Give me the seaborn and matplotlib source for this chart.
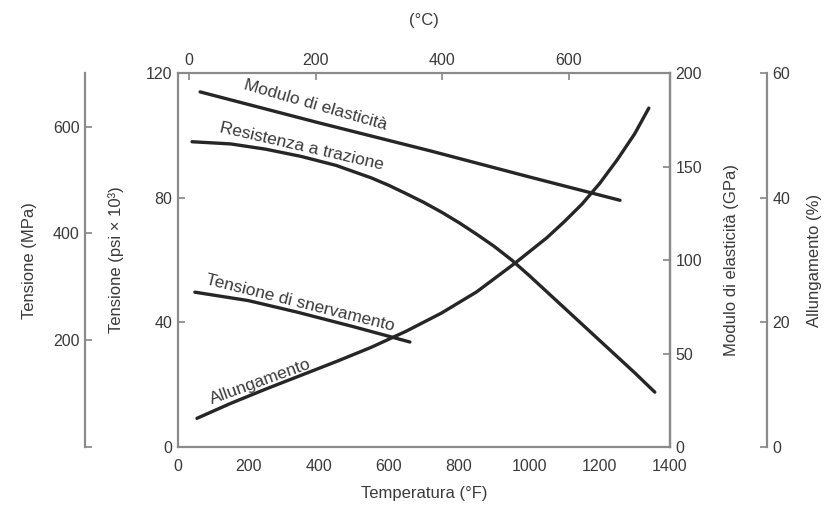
import matplotlib
matplotlib.use("Agg")
import matplotlib.pyplot as plt
import seaborn as sns
import pandas as pd
import numpy as np

# ---- data ----
mod_F = [63, 400, 717, 1000, 1258]
mod_GPa = [190, 173.5, 158.5, 144.5, 132]

ts_F = [40, 150, 250, 350, 450, 550, 600, 650, 700, 750, 800, 850, 900, 950,
        1000, 1100, 1200, 1300, 1357]
ts_ksi = [98, 97.3, 95.6, 93.3, 90.4, 86.4, 84.0, 81.3, 78.5, 75.4, 72.0, 68.3,
          64.4, 60.0, 55.0, 44.6, 34.2, 23.8, 17.6]

ys_F = [48, 200, 339, 500, 660]
ys_ksi = [49.7, 47, 43.3, 38.6, 33.7]

el_F = [54, 150, 250, 350, 450, 550, 650, 750, 850, 959, 1050, 1100, 1150,
        1200, 1250, 1300, 1340]
el_pct = [4.6, 7.0, 9.3, 11.5, 13.7, 16.0, 18.6, 21.5, 24.9, 29.5, 33.6, 36.2,
          39.0, 42.3, 46.1, 50.3, 54.4]

x_ticks_F = [0, 200, 400, 600, 800, 1000, 1200, 1400]
x_ticks_C = [0, 200, 400, 600]
ksi_ticks = [0, 40, 80, 120]
gpa_ticks = [0, 50, 100, 150, 200]
el_ticks = [0, 20, 40, 60]
mpa_ticks = [0, 200, 400, 600]
mpa_labels = ["", "200", "400", "600"]

sns.set_theme(style="white")
FONT = ["Liberation Sans Narrow", "Liberation Sans", "DejaVu Sans"]
plt.rcParams["font.family"] = FONT
TXT = "#3a3a3a"
SP = "#8a8a8a"
LC = "#262626"

fig = plt.figure(figsize=(8.24, 5.12), dpi=100)
ax = fig.add_axes([0.216, 0.127, 0.597, 0.730])
ax.set_xlim(0, 1400)
ax.set_ylim(0, 120)

ax_mod = ax.twinx()
ax_mod.set_ylim(0, 200)
ax_el = ax.twinx()
ax_el.set_ylim(0, 60)
ax_mpa = ax.twinx()
ax_mpa.set_ylim(0, 700)

# curves
sns.lineplot(x=mod_F, y=mod_GPa, ax=ax_mod, color=LC, lw=2.4, sort=False)
sns.lineplot(x=ts_F, y=ts_ksi, ax=ax, color=LC, lw=2.4, sort=False)
sns.lineplot(x=ys_F, y=ys_ksi, ax=ax, color=LC, lw=2.4, sort=False)
sns.lineplot(x=el_F, y=el_pct, ax=ax_el, color=LC, lw=2.4, sort=False)

# main axis styling
for s in ax.spines.values():
    s.set_color(SP)
    s.set_linewidth(1.6)
ax.set_xticks(x_ticks_F)
ax.set_yticks(ksi_ticks)
ax.tick_params(direction="in", length=5, color=SP, labelcolor=TXT, labelsize=11.5, pad=4)
ax.tick_params(axis="x", pad=9)
ax.set_xlabel("Temperatura (°F)", color=TXT, fontsize=12, labelpad=8)
ax.set_ylabel("Tensione (psi × 10³)", color=TXT, fontsize=12, labelpad=16)

# top Celsius axis
secax = ax.secondary_xaxis("top", functions=(lambda f: (f - 32) / 1.8, lambda c: c * 1.8 + 32))
secax.set_xticks(x_ticks_C)
secax.tick_params(direction="in", length=5, color=SP, labelcolor=TXT, labelsize=11.5, pad=4)
secax.spines["top"].set_color(SP)
secax.set_xlabel("(°C)", color=TXT, fontsize=12, labelpad=20)

# modulus axis
for k in ["left", "top", "bottom"]:
    ax_mod.spines[k].set_visible(False)
ax_mod.spines["right"].set_color(SP)
ax_mod.spines["right"].set_linewidth(1.6)
ax_mod.set_yticks(gpa_ticks)
ax_mod.tick_params(direction="in", length=5, color=SP, labelcolor=TXT, labelsize=11.5, pad=4)
ax_mod.set_ylabel("Modulo di elasticità (GPa)", color=TXT, fontsize=12, labelpad=16)

# elongation axis
for k in ["left", "top", "bottom"]:
    ax_el.spines[k].set_visible(False)
ax_el.spines["right"].set_position(("axes", 1.197))
ax_el.spines["right"].set_color(SP)
ax_el.spines["right"].set_linewidth(1.6)
ax_el.set_yticks(el_ticks)
ax_el.tick_params(direction="in", length=5, color=SP, labelcolor=TXT, labelsize=11.5, pad=4)
ax_el.set_ylabel("Allungamento (%)", color=TXT, fontsize=12, labelpad=12)

# MPa axis on far left
for k in ["right", "top", "bottom"]:
    ax_mpa.spines[k].set_visible(False)
ax_mpa.spines["left"].set_visible(True)
ax_mpa.spines["left"].set_position(("axes", -0.189))
ax_mpa.spines["left"].set_color(SP)
ax_mpa.spines["left"].set_linewidth(1.6)
ax_mpa.yaxis.set_ticks_position("left")
ax_mpa.yaxis.set_label_position("left")
ax_mpa.set_yticks(mpa_ticks)
ax_mpa.set_yticklabels(mpa_labels)
ax_mpa.tick_params(direction="in", length=5, color=SP, labelcolor=TXT, labelsize=11.5, pad=4)
ax_mpa.set_ylabel("Tensione (MPa)", color=TXT, fontsize=12, labelpad=11)

# curve annotations
lab = dict(color=TXT, fontsize=12.5, ha="center", va="center", rotation_mode="anchor")
ax.text(390, 109.7, "Modulo di elasticità", rotation=-16, **lab)
ax.text(353, 96.4, "Resistenza a trazione", rotation=-13, **lab)
ax.text(347, 46.2, "Tensione di snervamento", rotation=-14, **lab)
ax.text(236, 20.9, "Allungamento", rotation=20, **lab)

fig.savefig("out.png", dpi=100)
